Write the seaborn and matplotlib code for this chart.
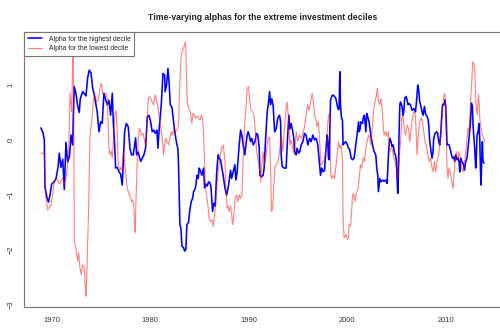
import matplotlib
matplotlib.use('Agg')
import matplotlib.pyplot as plt
import seaborn as sns

# rolling alphas (decimal years)
blue_year = [
    1968.91, 1969.12, 1969.25, 1969.32, 1969.52, 1969.68, 1969.83, 1970.00, 1970.26, 1970.44,
    1970.64, 1970.77, 1970.94, 1971.12, 1971.28, 1971.45, 1971.62, 1971.81, 1971.96, 1972.13,
    1972.19, 1972.29, 1972.46, 1972.64, 1972.80, 1972.90, 1973.14, 1973.33, 1973.48, 1973.65,
    1973.81, 1973.99, 1974.16, 1974.29, 1974.44, 1974.62, 1974.80, 1974.97, 1975.13, 1975.30,
    1975.48, 1975.64, 1975.81, 1975.98, 1976.15, 1976.25, 1976.39, 1976.49, 1976.65, 1976.83,
    1977.00, 1977.16, 1977.26, 1977.40, 1977.57, 1977.77, 1977.94, 1978.11, 1978.28, 1978.52,
    1978.62, 1978.78, 1979.03, 1979.19, 1979.36, 1979.53, 1979.70, 1979.87, 1980.04, 1980.20,
    1980.35, 1980.51, 1980.68, 1980.78, 1980.91, 1981.12, 1981.29, 1981.46, 1981.52, 1981.66,
    1981.80, 1981.93, 1982.03, 1982.20, 1982.37, 1982.54, 1982.71, 1982.81, 1982.88, 1982.94,
    1983.01, 1983.11, 1983.22, 1983.39, 1983.49, 1983.62, 1983.72, 1983.89, 1984.00, 1984.16,
    1984.30, 1984.40, 1984.53, 1984.64, 1984.74, 1984.87, 1984.97, 1985.07, 1985.24, 1985.42,
    1985.52, 1985.65, 1985.78, 1985.92, 1986.06, 1986.16, 1986.33, 1986.46, 1986.59, 1986.73,
    1986.80, 1986.90, 1987.00, 1987.14, 1987.24, 1987.40, 1987.58, 1987.75, 1987.91, 1988.08,
    1988.15, 1988.26, 1988.42, 1988.59, 1988.69, 1988.82, 1989.03, 1989.17, 1989.30, 1989.43,
    1989.60, 1989.71, 1989.84, 1989.94, 1990.04, 1990.18, 1990.31, 1990.45, 1990.62, 1990.79,
    1990.92, 1991.06, 1991.13, 1991.30, 1991.46, 1991.56, 1991.73, 1991.87, 1992.01, 1992.11,
    1992.21, 1992.34, 1992.48, 1992.62, 1992.78, 1992.95, 1993.12, 1993.23, 1993.29, 1993.39,
    1993.56, 1993.79, 1993.90, 1993.97, 1994.07, 1994.17, 1994.30, 1994.47, 1994.57, 1994.65,
    1994.81, 1994.91, 1995.05, 1995.18, 1995.32, 1995.49, 1995.66, 1995.82, 1995.99, 1996.17,
    1996.33, 1996.50, 1996.67, 1996.84, 1997.01, 1997.18, 1997.28, 1997.41, 1997.55, 1997.69,
    1997.82, 1997.95, 1998.02, 1998.09, 1998.15, 1998.23, 1998.30, 1998.50, 1998.66, 1998.83,
    1999.01, 1999.11, 1999.17, 1999.24, 1999.31, 1999.41, 1999.51, 1999.57, 1999.68, 1999.85,
    2000.02, 2000.12, 2000.25, 2000.39, 2000.53, 2000.69, 2000.86, 2001.03, 2001.14, 2001.20,
    2001.30, 2001.37, 2001.54, 2001.64, 2001.74, 2001.88, 2001.98, 2002.11, 2002.21, 2002.38,
    2002.56, 2002.72, 2002.89, 2002.99, 2003.09, 2003.16, 2003.30, 2003.43, 2003.57, 2003.73,
    2003.91, 2004.04, 2004.11, 2004.21, 2004.31, 2004.44, 2004.54, 2004.65, 2004.79, 2004.89,
    2004.99, 2005.05, 2005.12, 2005.19, 2005.25, 2005.33, 2005.40, 2005.56, 2005.66, 2005.73,
    2005.83, 2005.96, 2006.07, 2006.17, 2006.27, 2006.41, 2006.57, 2006.75, 2006.92, 2007.02,
    2007.15, 2007.25, 2007.35, 2007.49, 2007.59, 2007.69, 2007.83, 2007.93, 2008.03, 2008.17,
    2008.27, 2008.37, 2008.50, 2008.60, 2008.70, 2008.77, 2008.91, 2009.05, 2009.18, 2009.28,
    2009.38, 2009.48, 2009.55, 2009.66, 2009.79, 2009.92, 2009.99, 2010.06, 2010.12, 2010.22,
    2010.33, 2010.47, 2010.57, 2010.67, 2010.80, 2010.90, 2011.00, 2011.14, 2011.24, 2011.34,
    2011.41, 2011.51, 2011.61, 2011.75, 2011.89, 2012.02, 2012.15, 2012.29, 2012.35, 2012.50,
    2012.60, 2012.70, 2012.76, 2012.83, 2012.93, 2013.03, 2013.10, 2013.17, 2013.27, 2013.37,
    2013.44, 2013.51, 2013.57, 2013.64, 2013.71, 2013.77, 2013.88,
]
blue_alpha = [
    0.22, 0.13, 0.0, -0.85, -1.05, -1.13, -1.0, -0.8, -0.76, -0.7,
    -0.5, -0.24, -0.5, -0.35, -0.9, -0.04, -0.4, -0.3, 0.09, -0.09,
    0.4, 0.97, 0.85, 0.62, 0.5, 0.75, 0.88, 0.84, 0.8, 1.13,
    1.27, 1.22, 0.94, 0.85, 0.7, 0.51, 0.15, 0.33, 0.3, 0.85,
    0.73, 0.64, 0.72, 0.45, 0.85, 0.33, -0.09, -0.51, -0.5, -0.58,
    -0.62, -0.82, -0.45, 0.15, 0.3, 0.24, -0.15, -0.27, -0.27, 0.04,
    -0.27, -0.22, -0.39, -0.33, -0.27, -0.15, 0.42, 0.45, 0.33, 0.15,
    0.18, 0.12, 0.18, -0.15, 0.2, 0.64, 1.21, 1.18, 0.88, 1.0,
    1.3, 1.0, 0.64, 0.6, 0.33, 0.09, -0.09, -0.15, -0.51, -1.0,
    -1.54, -1.6, -1.93, -1.96, -2.02, -1.99, -1.54, -1.5, -1.3, -1.12,
    -1.06, -0.94, -0.9, -0.82, -0.64, -0.7, -0.51, -0.55, -0.64, -0.51,
    -0.87, -0.8, -0.84, -0.76, -0.78, -0.85, -1.3, -1.15, -1.2, -0.64,
    -0.45, -0.27, -0.33, -0.36, -0.48, -0.64, -0.87, -1.0, -0.87, -0.64,
    -0.55, -0.7, -0.58, -0.45, -0.73, -0.58, -0.09, 0.18, 0.09, -0.09,
    -0.27, -0.09, 0.09, 0.15, 0.09, -0.03, 0.03, -0.09, -0.03, 0.12,
    0.09, -0.15, -0.64, -0.67, -0.64, -0.51, 0.09, 0.51, 0.69, 0.88,
    0.64, 0.75, 0.61, 0.15, 0.2, 0.4, 0.45, 0.33, -0.27, -0.48,
    -0.51, -0.51, -0.09, 0.15, 0.45, 0.2, 0.3, 0.15, 0.03, -0.21,
    -0.27, -0.15, -0.24, -0.21, -0.09, -0.03, 0.12, 0.09, -0.09, 0.03,
    -0.03, 0.09, 0.0, 0.03, -0.09, -0.45, -0.64, -0.51, -0.58, -0.55,
    -0.21, 0.09, -0.03, -0.33, -0.36, 0.21, 0.73, 0.82, 0.8, 0.76,
    0.6, 0.55, 0.57, 1.24, 0.64, 0.4, 0.36, -0.09, -0.06, -0.03,
    -0.09, -0.15, -0.18, -0.33, -0.36, -0.33, -0.09, 0.15, 0.33, 0.15,
    0.2, 0.33, 0.3, 0.42, 0.45, 0.15, 0.48, 0.4, 0.33, 0.09,
    -0.09, -0.21, -0.27, -0.51, -0.64, -0.94, -0.7, -0.76, -0.73, -0.75,
    -0.73, -0.79, -0.51, -0.15, 0.03, -0.03, -0.12, -0.09, -0.24, -0.27,
    -0.39, -0.7, -0.97, -0.6, 0.09, 0.64, 0.69, 0.6, 0.45, 0.51,
    0.76, 0.79, 0.73, 0.64, 0.66, 0.64, 0.54, 0.57, 0.51, 0.69,
    1.0, 0.9, 0.69, 0.6, 0.51, 0.45, 0.61, 0.48, 0.45, 0.4,
    0.27, -0.03, -0.21, -0.33, -0.21, 0.03, 0.12, 0.15, 0.12, -0.03,
    -0.09, 0.09, 0.33, 0.64, 0.64, 0.73, 0.6, 0.27, -0.09, -0.08,
    -0.09, -0.18, -0.27, -0.33, -0.31, -0.39, -0.27, -0.36, -0.33, -0.39,
    -0.58, -0.33, -0.39, -0.42, -0.55, -0.39, -0.33, -0.09, 0.03, 0.33,
    0.67, 0.6, 0.27, 0.09, -0.15, -0.51, -0.27, 0.09, 0.15, 0.3,
    0.03, -0.51, -0.82, -0.39, -0.03, -0.39, -0.42,
]

red_year = [
    1968.91, 1969.25, 1969.35, 1969.59, 1969.78, 1969.93, 1970.10, 1970.26, 1970.44, 1970.61,
    1970.77, 1970.94, 1971.12, 1971.28, 1971.45, 1971.58, 1971.72, 1971.86, 1972.03, 1972.13,
    1972.19, 1972.24, 1972.29, 1972.46, 1972.64, 1972.74, 1972.87, 1973.00, 1973.14, 1973.31,
    1973.41, 1973.48, 1973.58, 1973.75, 1973.88, 1974.09, 1974.22, 1974.32, 1974.44, 1974.56,
    1974.73, 1974.90, 1975.03, 1975.17, 1975.30, 1975.48, 1975.64, 1975.81, 1975.91, 1976.04,
    1976.15, 1976.25, 1976.39, 1976.52, 1976.65, 1976.72, 1976.86, 1977.00, 1977.13, 1977.26,
    1977.40, 1977.54, 1977.67, 1977.84, 1978.01, 1978.11, 1978.22, 1978.35, 1978.42, 1978.48,
    1978.55, 1978.62, 1978.68, 1978.78, 1978.88, 1979.03, 1979.13, 1979.29, 1979.43, 1979.53,
    1979.63, 1979.77, 1979.87, 1980.04, 1980.20, 1980.35, 1980.51, 1980.68, 1980.85, 1981.01,
    1981.19, 1981.36, 1981.46, 1981.59, 1981.72, 1981.87, 1982.00, 1982.13, 1982.27, 1982.40,
    1982.54, 1982.71, 1982.88, 1982.94, 1983.04, 1983.14, 1983.29, 1983.42, 1983.55, 1983.62,
    1983.69, 1983.79, 1983.93, 1984.06, 1984.23, 1984.33, 1984.50, 1984.60, 1984.74, 1984.91,
    1985.07, 1985.17, 1985.31, 1985.42, 1985.52, 1985.58, 1985.72, 1985.85, 1985.98, 1986.13,
    1986.26, 1986.39, 1986.53, 1986.66, 1986.80, 1986.94, 1987.07, 1987.24, 1987.40, 1987.58,
    1987.68, 1987.81, 1987.91, 1988.01, 1988.15, 1988.26, 1988.36, 1988.49, 1988.62, 1988.76,
    1988.90, 1989.03, 1989.17, 1989.30, 1989.43, 1989.57, 1989.71, 1989.84, 1989.98, 1990.11,
    1990.24, 1990.39, 1990.52, 1990.65, 1990.79, 1990.95, 1991.13, 1991.23, 1991.33, 1991.46,
    1991.60, 1991.73, 1991.87, 1991.97, 1992.11, 1992.21, 1992.31, 1992.41, 1992.52, 1992.65,
    1992.82, 1992.95, 1993.12, 1993.29, 1993.46, 1993.66, 1993.79, 1993.90, 1994.04, 1994.17,
    1994.30, 1994.47, 1994.65, 1994.81, 1994.98, 1995.15, 1995.32, 1995.49, 1995.66, 1995.82,
    1995.99, 1996.13, 1996.27, 1996.43, 1996.53, 1996.67, 1996.84, 1996.94, 1997.08, 1997.21,
    1997.34, 1997.52, 1997.69, 1997.82, 1997.92, 1998.09, 1998.23, 1998.33, 1998.43, 1998.56,
    1998.70, 1998.83, 1999.01, 1999.11, 1999.24, 1999.37, 1999.51, 1999.57, 1999.68, 1999.85,
    2000.02, 2000.12, 2000.18, 2000.33, 2000.46, 2000.53, 2000.66, 2000.79, 2000.93, 2001.07,
    2001.20, 2001.34, 2001.47, 2001.60, 2001.74, 2001.88, 2002.01, 2002.15, 2002.28, 2002.41,
    2002.56, 2002.69, 2002.82, 2002.96, 2003.06, 2003.16, 2003.30, 2003.43, 2003.57, 2003.73,
    2003.91, 2004.04, 2004.18, 2004.31, 2004.44, 2004.58, 2004.72, 2004.85, 2004.99, 2005.12,
    2005.25, 2005.40, 2005.53, 2005.66, 2005.80, 2005.93, 2006.07, 2006.21, 2006.34, 2006.47,
    2006.61, 2006.75, 2006.92, 2007.08, 2007.22, 2007.35, 2007.49, 2007.63, 2007.76, 2007.89,
    2008.03, 2008.17, 2008.30, 2008.44, 2008.60, 2008.70, 2008.84, 2008.98, 2009.11, 2009.28,
    2009.45, 2009.58, 2009.72, 2009.86, 2009.92, 2010.06, 2010.12, 2010.22, 2010.33, 2010.47,
    2010.60, 2010.73, 2010.83, 2010.93, 2011.08, 2011.21, 2011.34, 2011.48, 2011.61, 2011.75,
    2011.92, 2012.09, 2012.25, 2012.35, 2012.50, 2012.63, 2012.73, 2012.83, 2012.93, 2013.03,
    2013.17, 2013.31, 2013.37, 2013.44, 2013.57, 2013.71, 2013.84, 2013.95,
]
red_alpha = [
    -0.24, -0.24, -0.95, -1.27, -1.22, -1.2, -1.0, -0.76, -0.7, -0.72,
    -0.8, -0.76, -0.7, -0.8, -0.7, -0.5, -0.27, 0.85, 0.51, 1.42,
    1.72, 0.5, -1.84, -1.96, -2.2, -2.05, -2.33, -2.45, -2.27, -2.32,
    -2.68, -2.84, -2.33, -1.23, 0.04, 0.4, 0.69, 0.79, 0.8, 0.69,
    0.72, 0.94, 1.03, 0.85, 0.82, 0.85, 0.76, -0.15, -0.27, -0.2,
    -0.33, -0.03, 0.4, 0.54, 0.21, -0.33, -0.58, -0.5, -0.55, -0.21,
    -0.4, -0.64, -0.88, -0.97, -1.06, -1.12, -1.09, -1.24, -1.66, -1.68,
    -1.12, -0.7, -0.39, -0.03, 0.21, 0.15, 0.09, 0.12, -0.03, -0.09,
    0.09, 0.69, 0.79, 0.76, 0.69, 0.64, 0.82, 0.7, 0.51, 0.3,
    0.09, -0.27, -0.09, 0.03, -0.03, -0.09, 0.03, 0.15, 0.09, 0.21,
    0.15, 0.18, 0.27, 0.69, 1.18, 1.54, 1.63, 1.69, 1.78, 1.6,
    1.0, 0.64, 0.57, 0.51, 0.3, 0.48, 0.45, 0.4, 0.43, 0.4,
    0.36, 0.45, 0.4, 0.09, -0.39, -0.82, -1.0, -1.18, -1.42, -1.48,
    -1.45, -1.57, -1.36, -1.12, -0.76, -0.51, -0.33, -0.15, -0.09, -0.36,
    -0.94, -1.24, -1.2, -1.3, -1.2, -1.36, -1.54, -1.36, -1.06, -1.0,
    -1.12, -1.0, -1.06, -1.0, -0.39, 0.27, 0.57, 0.94, 0.97, 0.69,
    0.54, 0.51, 0.45, 0.21, -0.21, -0.36, -0.58, -0.76, -0.45, -0.21,
    -0.45, -0.33, -0.09, 0.03, 0.06, -0.5, -1.3, -1.25, -0.9, -0.48,
    -0.45, -0.42, -0.21, 0.09, -0.21, 0.3, 0.57, 0.69, 0.36, -0.09,
    0.0, -0.15, -0.27, 0.15, -0.03, 0.09, 0.03, 0.12, 0.24, 0.45,
    0.64, 0.54, 0.69, 0.85, 0.76, 0.45, 0.36, 0.24, 0.33, -0.09,
    -0.45, -0.42, -0.33, -0.2, 0.06, 0.45, 0.48, -0.64, -0.7, -0.64,
    -0.7, -0.51, -0.21, -0.03, -0.15, -0.09, -0.39, -1.42, -1.78, -1.72,
    -1.81, -1.78, -1.54, -1.56, -1.24, -1.0, -0.97, -1.12, -0.94, -0.91,
    -0.7, -0.45, -0.51, -0.33, -0.39, -0.15, -0.03, 0.09, 0.03, -0.09,
    0.27, 0.57, 0.69, 0.82, 0.94, 0.7, 0.64, 0.76, 0.45, 0.09,
    0.15, 0.06, 0.15, -0.21, -0.15, -0.18, -0.33, -0.39, -0.51, -0.7,
    -0.39, -0.03, 0.4, 0.45, 0.15, 0.09, 0.27, 0.21, -0.03, 0.21,
    0.4, 0.51, 0.45, -0.27, 0.09, 0.33, 0.4, 0.33, 0.15, -0.03,
    -0.09, -0.27, -0.39, -0.33, -0.51, -0.58, -0.39, -0.58, -0.39, -0.27,
    0.03, 0.33, 0.69, 0.85, 0.8, -0.03, -0.51, -0.7, -0.51, -0.6,
    -0.76, -0.88, -0.64, -0.39, -0.21, -0.36, -0.21, -0.36, -0.51, -0.58,
    -0.39, -0.09, 0.21, 0.15, 0.69, 1.06, 1.42, 1.39, 1.3, 0.69,
    0.45, 0.82, 0.7, 0.4, 0.21, 0.09, 0.03, -0.03,
]

year_ticks = [1970, 1980, 1990, 2000, 2010]
alpha_ticks = [-3, -2, -1, 0, 1]

sns.set_style('white')
plt.rcParams['font.family'] = ['Liberation Sans', 'DejaVu Sans']

fig = plt.figure(figsize=(5, 3.29), dpi=100)
ax = fig.add_axes([0.048, 0.0669, 0.956, 0.836])

sns.lineplot(x=blue_year, y=blue_alpha, ax=ax, color='#0000ff', linewidth=1.15,
             estimator=None, sort=False, label='Alpha for the highest decile')
sns.lineplot(x=red_year, y=red_alpha, ax=ax, color='#ff0000', alpha=0.5, linewidth=0.8,
             estimator=None, sort=False, label='Alpha for the lowest decile')

ax.set_xlim(1967.19, 2015.7)
ax.set_ylim(-3.036, 1.964)
ax.set_xticks(year_ticks)
ax.set_yticks(alpha_ticks)
ax.set_xlabel('')
ax.set_ylabel('')
for lab in ax.get_yticklabels():
    lab.set_rotation(90)
    lab.set_va('center')
ax.tick_params(direction='out', length=3, width=0.6, colors='#666666',
               labelcolor='#333333', labelsize=5.4)
ax.tick_params(axis='y', pad=4)
ax.tick_params(axis='x', pad=4)
for sp in ax.spines.values():
    sp.set_color('#777777')
    sp.set_linewidth(0.8)

ax.set_title('Time-varying alphas for the extreme investment deciles',
             fontsize=6.2, fontweight='bold', color='#222222', pad=8.5)

leg = ax.legend(loc='upper left', borderaxespad=0, fancybox=False, framealpha=1,
                edgecolor='#777777', fontsize=4.9, handlelength=2.1,
                handletextpad=1.0, labelspacing=0.38, borderpad=0.55)
leg.get_frame().set_linewidth(0.8)
leg.set_zorder(5)

fig.savefig('out.png', dpi=100)
